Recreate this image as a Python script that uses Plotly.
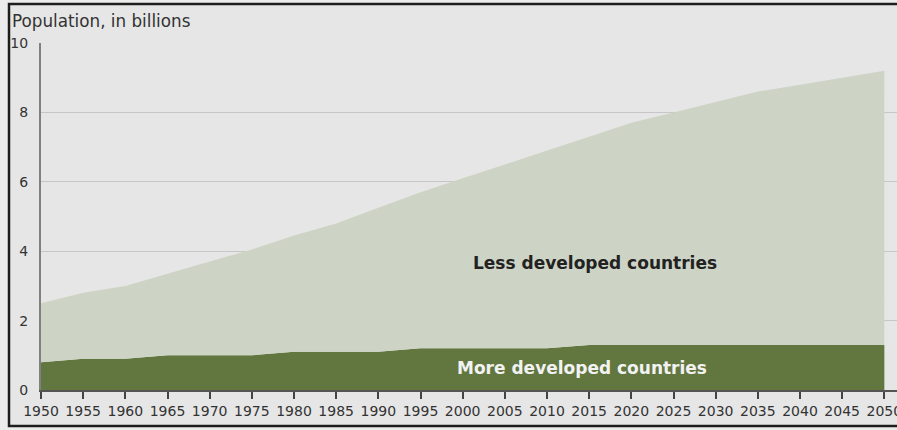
import plotly.graph_objects as go

years = [1950, 1955, 1960, 1965, 1970, 1975, 1980, 1985, 1990, 1995, 2000,
         2005, 2010, 2015, 2020, 2025, 2030, 2035, 2040, 2045, 2050]
more_developed = [0.8, 0.9, 0.9, 1.0, 1.0, 1.0, 1.1, 1.1, 1.1, 1.2, 1.2,
                  1.2, 1.2, 1.3, 1.3, 1.3, 1.3, 1.3, 1.3, 1.3, 1.3]
less_developed = [1.7, 1.9, 2.1, 2.35, 2.7, 3.05, 3.35, 3.7, 4.15, 4.5, 4.9,
                  5.3, 5.7, 6.0, 6.4, 6.7, 7.0, 7.3, 7.5, 7.7, 7.9]
x_ticks = list(range(1950, 2051, 5))
y_ticks = [0, 2, 4, 6, 8, 10]

FONT = "DejaVu Sans"
W, H = 897, 430
ML, MR, MT, MB = 41, 0, 43, 40
pw = W - ML - MR
ph = H - MT - MB

def px2x(px):
    return (px - ML) / pw

def py2y(py):
    return (H - MB - py) / ph

fig = go.Figure()
fig.add_trace(go.Scatter(
    x=years, y=more_developed, stackgroup="one", mode="none",
    fillcolor="#62773f", name="More developed countries", hoverinfo="skip"))
fig.add_trace(go.Scatter(
    x=years, y=less_developed, stackgroup="one", mode="none",
    fillcolor="#ced4c5", name="Less developed countries", hoverinfo="skip"))

fig.update_layout(
    width=W, height=H,
    margin=dict(l=ML, r=MR, t=MT, b=MB, autoexpand=False),
    paper_bgcolor="#ececec",
    plot_bgcolor="rgba(0,0,0,0)",
    showlegend=False,
    font=dict(family=FONT, size=14, color="#333333"),
    xaxis=dict(
        range=[1950, 2051.5], tickmode="array", tickvals=x_ticks,
        ticktext=[str(v) for v in x_ticks],
        showgrid=False, zeroline=False,
        showline=True, linecolor="#555555", linewidth=2,
        ticks="outside", ticklen=7, tickwidth=1.5, tickcolor="#444444",
        ticklabeloverflow="allow", automargin=False,
        tickfont=dict(family=FONT, size=14, color="#333333"),
    ),
    yaxis=dict(
        range=[0, 10], tickmode="array", tickvals=y_ticks,
        showgrid=True, gridcolor="#c6c6c6", gridwidth=1,
        zeroline=False, showline=True, linecolor="#808080", linewidth=2,
        ticks="", ticklabelstandoff=8, automargin=False,
        tickfont=dict(family=FONT, size=14, color="#333333"),
    ),
    shapes=[
        dict(type="rect", xref="paper", yref="paper",
             x0=px2x(9), x1=px2x(905), y0=py2y(426), y1=py2y(4),
             fillcolor="#e6e6e6", line=dict(color="#1e1e1e", width=2.5),
             layer="below"),
    ],
    annotations=[
        dict(text="Population, in billions", xref="paper", yref="paper",
             x=px2x(10), y=py2y(21), xanchor="left", yanchor="middle",
             showarrow=False, font=dict(family=FONT, size=16.8, color="#333333")),
        dict(text="<b>Less developed countries</b>", x=2015.7, y=3.66,
             xref="x", yref="y", showarrow=False,
             font=dict(family=FONT, size=17, color="#222222")),
        dict(text="<b>More developed countries</b>", x=2014.2, y=0.63,
             xref="x", yref="y", showarrow=False,
             font=dict(family=FONT, size=17, color="#f2f2f2")),
    ],
)

fig.write_html("out.html", config={"displayModeBar": False},
               post_script="document.body.style.margin='0px';document.body.style.overflow='hidden';")
